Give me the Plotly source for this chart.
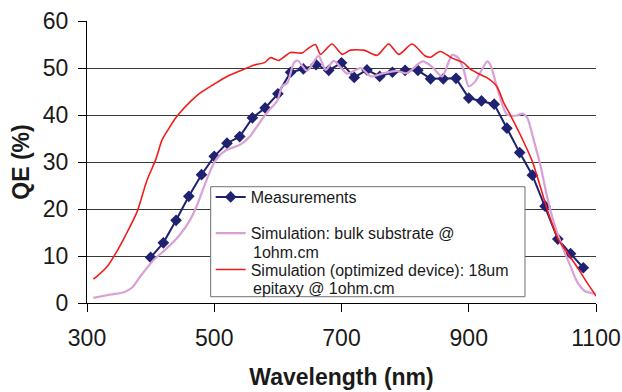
import plotly.graph_objects as go

# Measurements
meas_x = [400, 420, 440, 460, 480, 500, 520, 540, 560, 580, 600, 620, 640, 660, 680,
          700, 720, 740, 760, 780, 800, 820, 840, 860, 880, 900, 920, 940, 960, 980,
          1000, 1020, 1040, 1060, 1080]
meas_y = [9.7, 12.8, 17.6, 22.7, 27.3, 31.2, 34.0, 35.4, 39.4, 41.5, 44.5, 49.1, 49.8, 50.7, 49.5,
          51.1, 48.0, 49.6, 48.2, 49.1, 49.5, 49.5, 47.7, 47.7, 47.8, 43.6, 43.0, 42.3, 37.2, 32.0,
          27.2, 20.6, 13.6, 10.5, 7.5]

# Simulation: bulk substrate
bulk_x = [310, 337, 358, 371, 384, 405, 426, 444, 460, 473, 486, 497, 507, 520, 541, 557, 572,
          586, 599, 607, 615, 620, 625, 631, 646, 664, 675, 688, 709, 730, 746, 766, 787, 803,
          827, 842, 858, 874, 884, 892, 900, 910, 929, 934, 944, 960, 976, 984, 992, 1002, 1013,
          1023, 1034, 1047, 1060, 1070, 1083, 1099]
bulk_y = [1.1, 1.8, 2.3, 3.3, 5.7, 9.2, 11.7, 14.2, 17.2, 20.8, 25.5, 29.1, 31.2, 32.6, 33.7, 35.6, 38.5,
          41.0, 43.0, 46.2, 46.8, 48.9, 51.1, 51.6, 49.4, 52.6, 49.6, 51.5, 48.8, 50.0, 48.2, 48.9, 49.4, 48.9,
          51.4, 50.3, 48.2, 52.8, 52.1, 49.6, 46.1, 47.1, 51.4, 50.7, 46.1, 40.1, 39.9, 40.3, 39.4, 34.7, 29.1,
          22.7, 17.0, 12.0, 7.8, 4.6, 2.5, 2.0]

# Simulation (optimized device)
opt_x = [310, 316, 332, 347, 361, 379, 394, 408, 418, 429, 439, 446, 462, 478, 499, 520, 541, 562,
         580, 588, 601, 610, 620, 638, 648, 659, 667, 685, 701, 714, 735, 756, 774, 790, 811, 831,
         840, 855, 874, 892, 902, 918, 929, 944, 955, 965, 981, 1000, 1013, 1026, 1041, 1057, 1073,
         1088, 1100]
opt_y = [5.1, 5.7, 7.8, 11.0, 14.5, 19.5, 26.0, 30.5, 34.7, 37.2, 39.3, 40.5, 42.8, 44.7, 46.5, 48.2, 49.4, 50.6,
         51.2, 52.2, 51.6, 52.4, 53.3, 53.2, 54.2, 55.0, 52.9, 55.1, 52.9, 53.8, 53.8, 52.7, 55.1, 52.9, 55.1, 52.6,
         52.3, 53.5, 52.1, 51.1, 49.8, 48.6, 47.9, 46.1, 42.6, 40.1, 35.8, 30.1, 24.5, 18.8, 13.5, 10.3, 7.1,
         3.9, 1.5]

x_ticks = [300, 500, 700, 900, 1100]
y_ticks = [0, 10, 20, 30, 40, 50, 60]

# legend texts (first line shown by the legend, wrapped line shown underneath)
leg_meas = "Measurements"
leg_bulk = ["Simulation: bulk substrate @", "1ohm.cm"]
leg_opt = ["Simulation (optimized device): 18um", "epitaxy @ 1ohm.cm"]

FONT = "Arial, 'Liberation Sans', sans-serif"
TXT = "#1a1a1a"
LEG_SIZE = 16

fig = go.Figure()
fig.add_trace(go.Scatter(
    x=meas_x, y=meas_y, mode="lines+markers", name=leg_meas, legendgroup="m",
    line=dict(color="#1f2270", width=2),
    marker=dict(symbol="diamond", size=9, color="#1f2270"),
))
fig.add_trace(go.Scatter(
    x=bulk_x, y=bulk_y, mode="lines", name=leg_bulk[0], legendgroup="b",
    line=dict(color="#d9a0d6", width=2.2, shape="spline", smoothing=0.7),
))
fig.add_trace(go.Scatter(
    x=opt_x, y=opt_y, mode="lines", name=leg_opt[0], legendgroup="o",
    line=dict(color="#f21c1c", width=1.6, shape="spline", smoothing=0.7),
))

# legend frame (white box behind the legend entries)
fig.add_shape(
    type="rect", xref="paper", yref="paper",
    x0=0.2430, x1=0.8605, y0=0.0223, y1=0.4124,
    fillcolor="white", line=dict(color="#707070", width=1), layer="above",
)

# wrapped second lines of the legend entries
for txt, yp in [(leg_bulk[1], 0.1800), (leg_opt[1], 0.0530)]:
    fig.add_annotation(
        text=txt, xref="paper", yref="paper", x=0.3245, y=yp,
        xanchor="left", yanchor="middle", showarrow=False,
        font=dict(family=FONT, size=LEG_SIZE, color=TXT), borderpad=0,
    )

fig.update_layout(
    width=622, height=392,
    margin=dict(l=87, r=26, t=21, b=89, autoexpand=False),
    paper_bgcolor="white", plot_bgcolor="white",
    font=dict(family=FONT, color=TXT),
    showlegend=True,
    legend=dict(
        x=0.243, y=0.4361, xanchor="left", yanchor="top",
        bgcolor="rgba(0,0,0,0)", borderwidth=0,
        font=dict(family=FONT, size=LEG_SIZE, color=TXT),
        tracegroupgap=12.5, itemwidth=30, traceorder="grouped",
    ),
    xaxis=dict(
        range=[300, 1100], tickvals=x_ticks, ticktext=[str(v) for v in x_ticks],
        showgrid=False, zeroline=False, showline=True, linecolor="black", linewidth=1,
        ticks="outside", ticklen=8, tickcolor="black", tickwidth=1,
        tickfont=dict(family=FONT, size=23, color=TXT),
        ticklabelstandoff=6, automargin=False,
        title=dict(text="<b>Wavelength (nm)</b>", font=dict(family=FONT, size=23, color=TXT), standoff=19),
    ),
    yaxis=dict(
        range=[0, 60], tickvals=y_ticks, ticktext=[str(v) for v in y_ticks],
        showgrid=True, gridcolor="#3a3a3a", gridwidth=1,
        zeroline=False, showline=True, linecolor="black", linewidth=1,
        ticks="outside", ticklen=8, tickcolor="black", tickwidth=1,
        tickfont=dict(family=FONT, size=23, color=TXT),
        ticklabelstandoff=5, automargin=False,
        title=dict(text="<b>QE (%)</b>", font=dict(family=FONT, size=23, color=TXT), standoff=6),
    ),
)

fig.write_html("out.html", config={"displayModeBar": False},
               post_script="document.body.style.margin='0';")
